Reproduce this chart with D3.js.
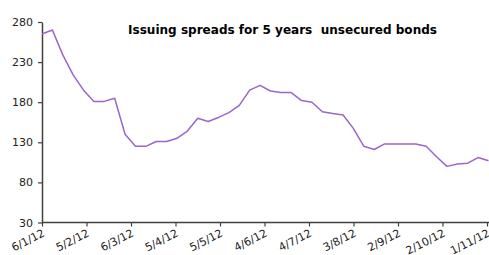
<!DOCTYPE html>
<html>
<head>
<meta charset="utf-8">
<script src="https://cdn.jsdelivr.net/npm/d3@7"></script>
<style>
  html, body { margin: 0; padding: 0; background: #fff; }
  svg { display: block; }
</style>
</head>
<body>
<svg id="chart" width="489" height="255"></svg>
<script>
const titleText = "Issuing spreads for 5 years\u00a0\u00a0unsecured bonds";

const dates = [
  "2012-01-06","2012-01-13","2012-01-20","2012-01-27",
  "2012-02-03","2012-02-10","2012-02-17","2012-02-24",
  "2012-03-02","2012-03-09","2012-03-16","2012-03-23","2012-03-30",
  "2012-04-06","2012-04-13","2012-04-20","2012-04-27",
  "2012-05-04","2012-05-11","2012-05-18","2012-05-25",
  "2012-06-01","2012-06-08","2012-06-15","2012-06-22","2012-06-29",
  "2012-07-06","2012-07-13","2012-07-20","2012-07-27",
  "2012-08-03","2012-08-10","2012-08-17","2012-08-24","2012-08-31",
  "2012-09-07","2012-09-14","2012-09-21","2012-09-28",
  "2012-10-05","2012-10-12","2012-10-19","2012-10-26",
  "2012-11-02"
];

const spreads = [
  265, 270, 239, 214,
  195, 181, 181, 185,
  140, 125, 125, 131, 131,
  135, 144, 160, 156,
  161, 167, 176, 195,
  201, 194, 192, 192, 182,
  180, 168, 166, 164,
  147, 125, 121, 128, 128,
  128, 128, 125, 112,
  100, 103, 104, 111,
  107
];

const xTickDates = [
  "2012-01-06","2012-02-05","2012-03-06","2012-04-05","2012-05-05",
  "2012-06-04","2012-07-04","2012-08-03","2012-09-02","2012-10-02","2012-11-01"
];
const yTicks = [30, 80, 130, 180, 230, 280];

const parse = d3.utcParse("%Y-%m-%d");
const data = dates.map((d, i) => ({ date: parse(d), value: spreads[i] }));
const tickDates = xTickDates.map(parse);
const fmt = d => `${d.getUTCDate()}/${d.getUTCMonth() + 1}/${String(d.getUTCFullYear()).slice(2)}`;

const svg = d3.select("#chart");

const x = d3.scaleUtc()
  .domain([tickDates[0], tickDates[tickDates.length - 1]])
  .range([42, 487]);
const y = d3.scaleLinear().domain([30, 280]).range([222.5, 22]);

const axisColor = "#404040";
const labelFont = "DejaVu Sans, Verdana, sans-serif";

// Y axis
const gy = svg.append("g")
  .attr("transform", "translate(42,0)")
  .call(d3.axisLeft(y).tickValues(yTicks).tickSize(4).tickSizeOuter(0).tickPadding(5));
gy.select(".domain").attr("stroke", axisColor).attr("stroke-width", 1.5);
gy.selectAll(".tick line").attr("stroke", axisColor).attr("stroke-width", 1.2);
gy.selectAll(".tick text")
  .attr("fill", "#222")
  .style("font-family", labelFont)
  .style("font-size", "11px");

// X axis
const gx = svg.append("g")
  .attr("transform", `translate(0,${y(30)})`)
  .call(d3.axisBottom(x).tickValues(tickDates).tickFormat(fmt).tickSize(4).tickSizeOuter(0));
gx.select(".domain").attr("d", "M42,0H489").attr("stroke", axisColor).attr("stroke-width", 1.5);
gx.selectAll(".tick line").attr("stroke", axisColor).attr("stroke-width", 1.2);
gx.selectAll(".tick text")
  .attr("fill", "#222")
  .style("font-family", labelFont)
  .style("font-size", "11px")
  .attr("text-anchor", "end")
  .attr("dy", null)
  .attr("y", null)
  .attr("transform", "translate(3,13) rotate(-27)");

// Line
const line = d3.line().x(d => x(d.date)).y(d => y(d.value));
svg.append("path")
  .datum(data)
  .attr("fill", "none")
  .attr("stroke", "#9966cc")
  .attr("stroke-width", 1.5)
  .attr("stroke-linejoin", "round")
  .attr("d", line);

// Title
svg.append("text")
  .attr("x", 128)
  .attr("y", 34)
  .attr("textLength", 309)
  .attr("lengthAdjust", "spacingAndGlyphs")
  .style("font-family", "DejaVu Sans, Verdana, sans-serif")
  .style("font-weight", "bold")
  .style("font-size", "12px")
  .attr("fill", "#000")
  .text(titleText);
</script>
</body>
</html>
